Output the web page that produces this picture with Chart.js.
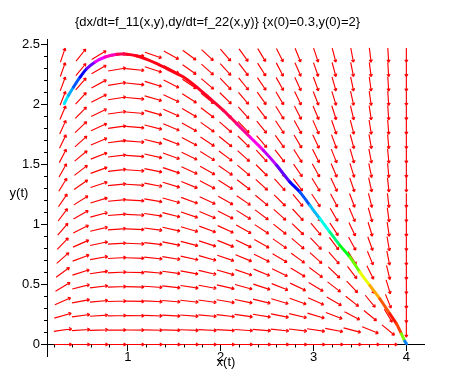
<!DOCTYPE html>
<html><head><meta charset="utf-8">
<script src="https://cdn.jsdelivr.net/npm/chart.js@4/dist/chart.umd.min.js"></script>
<style>html,body{margin:0;padding:0;background:#fff}canvas{display:block}</style>
</head><body>
<canvas id="c" width="465" height="378"></canvas>
<script>
// ---- text ----
const chartTitle = "{dx/dt=f_11(x,y),dy/dt=f_22(x,y)} {x(0)=0.3,y(0)=2}";
const xAxisLabel = "x(t)";
const yAxisLabel = "y(t)";
// ---- tick labels ----
const xTicks = [1, 2, 3, 4];
const yTicks = [0, 0.5, 1, 1.5, 2, 2.5];
// ---- direction field (grid columns / rows) ----
const fieldX = [0.300,0.495,0.689,0.884,1.079,1.274,1.468,1.663,1.858,2.053,2.247,2.442,2.637,2.832,3.026,3.221,3.416,3.611,3.805,4.000];
const fieldY = [0,0.12,0.24,0.36,0.48,0.60,0.72,0.84,0.96,1.08,1.20,1.33,1.45,1.57,1.69,1.81,1.93,2.05,2.17,2.29,2.41];
// horizontal component per column, and vertical component per unit of y per column
const fieldDx = [1.11,1.74,2.28,2.76,3.15,3.47,3.72,3.89,3.98,4.00,3.94,3.81,3.59,3.31,2.95,2.51,2.00,1.41,0.74,0];
const fieldDyPerY = [1.05,0.71,0.44,0.16,-0.11,-0.38,-0.66,-0.93,-1.20,-1.47,-1.75,-2.02,-2.29,-2.57,-2.84,-3.11,-3.38,-3.66,-3.93,-4.20];
// ---- solution curve (x(0)=0.3, y(0)=2) ----
const curveX = [0.316,0.362,0.416,0.488,0.560,0.649,0.757,0.883,0.990,1.098,1.205,1.313,1.420,1.528,1.599,1.743,1.886,2.029,2.173,2.316,2.459,2.603,2.746,2.854,2.961,3.069,3.176,3.284,3.392,3.499,3.606,3.714,3.821,3.893,3.947,3.983,4.001];
const curveY = [2.006,2.075,2.144,2.228,2.298,2.353,2.394,2.417,2.417,2.403,2.375,2.339,2.298,2.256,2.228,2.144,2.048,1.950,1.839,1.728,1.617,1.492,1.353,1.269,1.158,1.048,0.936,0.825,0.728,0.603,0.492,0.381,0.256,0.173,0.089,0.028,0.006];
const curveHue = [185,200,220,240,265,295,315,340,352,355,355,355,355,355,355,352,348,340,325,305,285,262,240,220,195,175,150,125,95,65,40,20,5,15,90,210,300];

const gridPoints = [];
fieldY.forEach((y) => fieldX.forEach((x, c) => gridPoints.push({x: x, y: y, u: fieldDx[c], v: fieldDyPerY[c] * y})));
const curvePoints = curveX.map((x, i) => ({x: x, y: curveY[i]}));

const FONT = "Liberation Sans, Arial, sans-serif";

const arrowPlugin = {
  id: 'arrows',
  beforeDatasetsDraw(chart) {
    const meta = chart.getDatasetMeta(0);
    const xs = chart.scales.x, ys = chart.scales.y;
    const kx = xs.getPixelForValue(1) - xs.getPixelForValue(0);
    const ky = ys.getPixelForValue(0) - ys.getPixelForValue(1);
    const W = Math.abs(xs.getPixelForValue(fieldX[1]) - xs.getPixelForValue(fieldX[0]));
    const H = Math.abs(ys.getPixelForValue(fieldY[1]) - ys.getPixelForValue(fieldY[0]));
    const ctx = chart.ctx;
    ctx.save();
    ctx.strokeStyle = '#ff0000';
    ctx.lineWidth = 1.15;
    ctx.lineCap = 'butt';
    meta.data.forEach((el, i) => {
      const p = gridPoints[i];
      const px = p.u * kx, py = -p.v * ky;
      const n = Math.hypot(px / W, py / H);
      if (n === 0) return;
      const s = 1.0 / n;
      const dx = px * s, dy = py * s;
      const x0 = el.x - dx / 2, y0 = el.y - dy / 2, x1 = el.x + dx / 2, y1 = el.y + dy / 2;
      const a = Math.atan2(dy, dx);
      const hl = 3, ha = 0.55;
      ctx.beginPath();
      ctx.moveTo(x0, y0); ctx.lineTo(x1, y1);
      ctx.moveTo(x1, y1); ctx.lineTo(x1 - hl * Math.cos(a - ha), y1 - hl * Math.sin(a - ha));
      ctx.moveTo(x1, y1); ctx.lineTo(x1 - hl * Math.cos(a + ha), y1 - hl * Math.sin(a + ha));
      ctx.stroke();
    });
    ctx.restore();
  }
};

const decorPlugin = {
  id: 'decor',
  afterDraw(chart) {
    const ctx = chart.ctx;
    const xs = chart.scales.x, ys = chart.scales.y;
    const ax = chart.chartArea.left;
    const ay = ys.getPixelForValue(0);
    ctx.save();
    ctx.strokeStyle = '#000';
    ctx.lineWidth = 1;
    ctx.beginPath();
    for (let k = 1; k <= 25; k++) {
      if (k % 5 === 0) continue;
      const py = Math.round(ys.getPixelForValue(k * 0.1)) + 0.5;
      ctx.moveTo(ax, py); ctx.lineTo(ax - 3, py);
    }
    for (let k = 1; k <= 20; k++) {
      if (k % 5 === 0) continue;
      const px = Math.round(xs.getPixelForValue(k * 0.2)) + 0.5;
      ctx.moveTo(px, ay); ctx.lineTo(px, ay + 3);
    }
    ctx.stroke();
    ctx.fillStyle = '#000';
    ctx.font = '13px ' + FONT;
    ctx.textAlign = 'center';
    ctx.textBaseline = 'middle';
    ctx.fillText(chartTitle, 217.5, 22);
    ctx.fillText(xAxisLabel, 226, 362);
    ctx.fillText(yAxisLabel, 19, 193);
    ctx.restore();
  }
};

new Chart(document.getElementById('c'), {
  type: 'scatter',
  data: {
    datasets: [
      { label: 'field', data: gridPoints, pointRadius: 0, pointHoverRadius: 0, showLine: false },
      { label: 'solution', type: 'line', data: curvePoints, borderWidth: 3, pointRadius: 0,
        tension: 0.3, fill: false, borderCapStyle: 'round',
        borderColor: 'hsl(0,100%,50%)',
        segment: { borderColor: ctx => 'hsl(' + curveHue[ctx.p0DataIndex] + ',100%,50%)' } }
    ]
  },
  options: {
    responsive: false,
    animation: false,
    events: [],
    layout: { padding: { left: 0, right: 41, top: 39.5, bottom: 21.5 } },
    plugins: { legend: { display: false }, tooltip: { enabled: false }, title: { display: false } },
    scales: {
      x: {
        type: 'linear', position: { y: 0 }, min: 0.13, max: 4.19, z: 1,
        afterBuildTicks: s => { s.ticks = xTicks.map(v => ({ value: v })); },
        grid: { drawOnChartArea: false, drawTicks: true, tickLength: 6, tickColor: '#000', color: '#000' },
        border: { display: true, color: '#000', width: 1 },
        ticks: { color: '#000', font: { family: FONT, size: 13 }, padding: -1, maxRotation: 0, autoSkip: false,
                 callback: v => String(v) }
      },
      y: {
        type: 'linear', position: 'left', min: -0.1, max: 2.54,
        afterBuildTicks: s => { s.ticks = yTicks.map(v => ({ value: v })); },
        afterFit: s => { s.width = 47; },
        grid: { drawOnChartArea: false, drawTicks: true, tickLength: 6, tickColor: '#000', color: '#000' },
        border: { display: true, color: '#000', width: 1 },
        ticks: { color: '#000', font: { family: FONT, size: 13 }, padding: 1, autoSkip: false,
                 callback: v => String(v) }
      }
    }
  },
  plugins: [arrowPlugin, decorPlugin]
});
</script>
</body></html>
